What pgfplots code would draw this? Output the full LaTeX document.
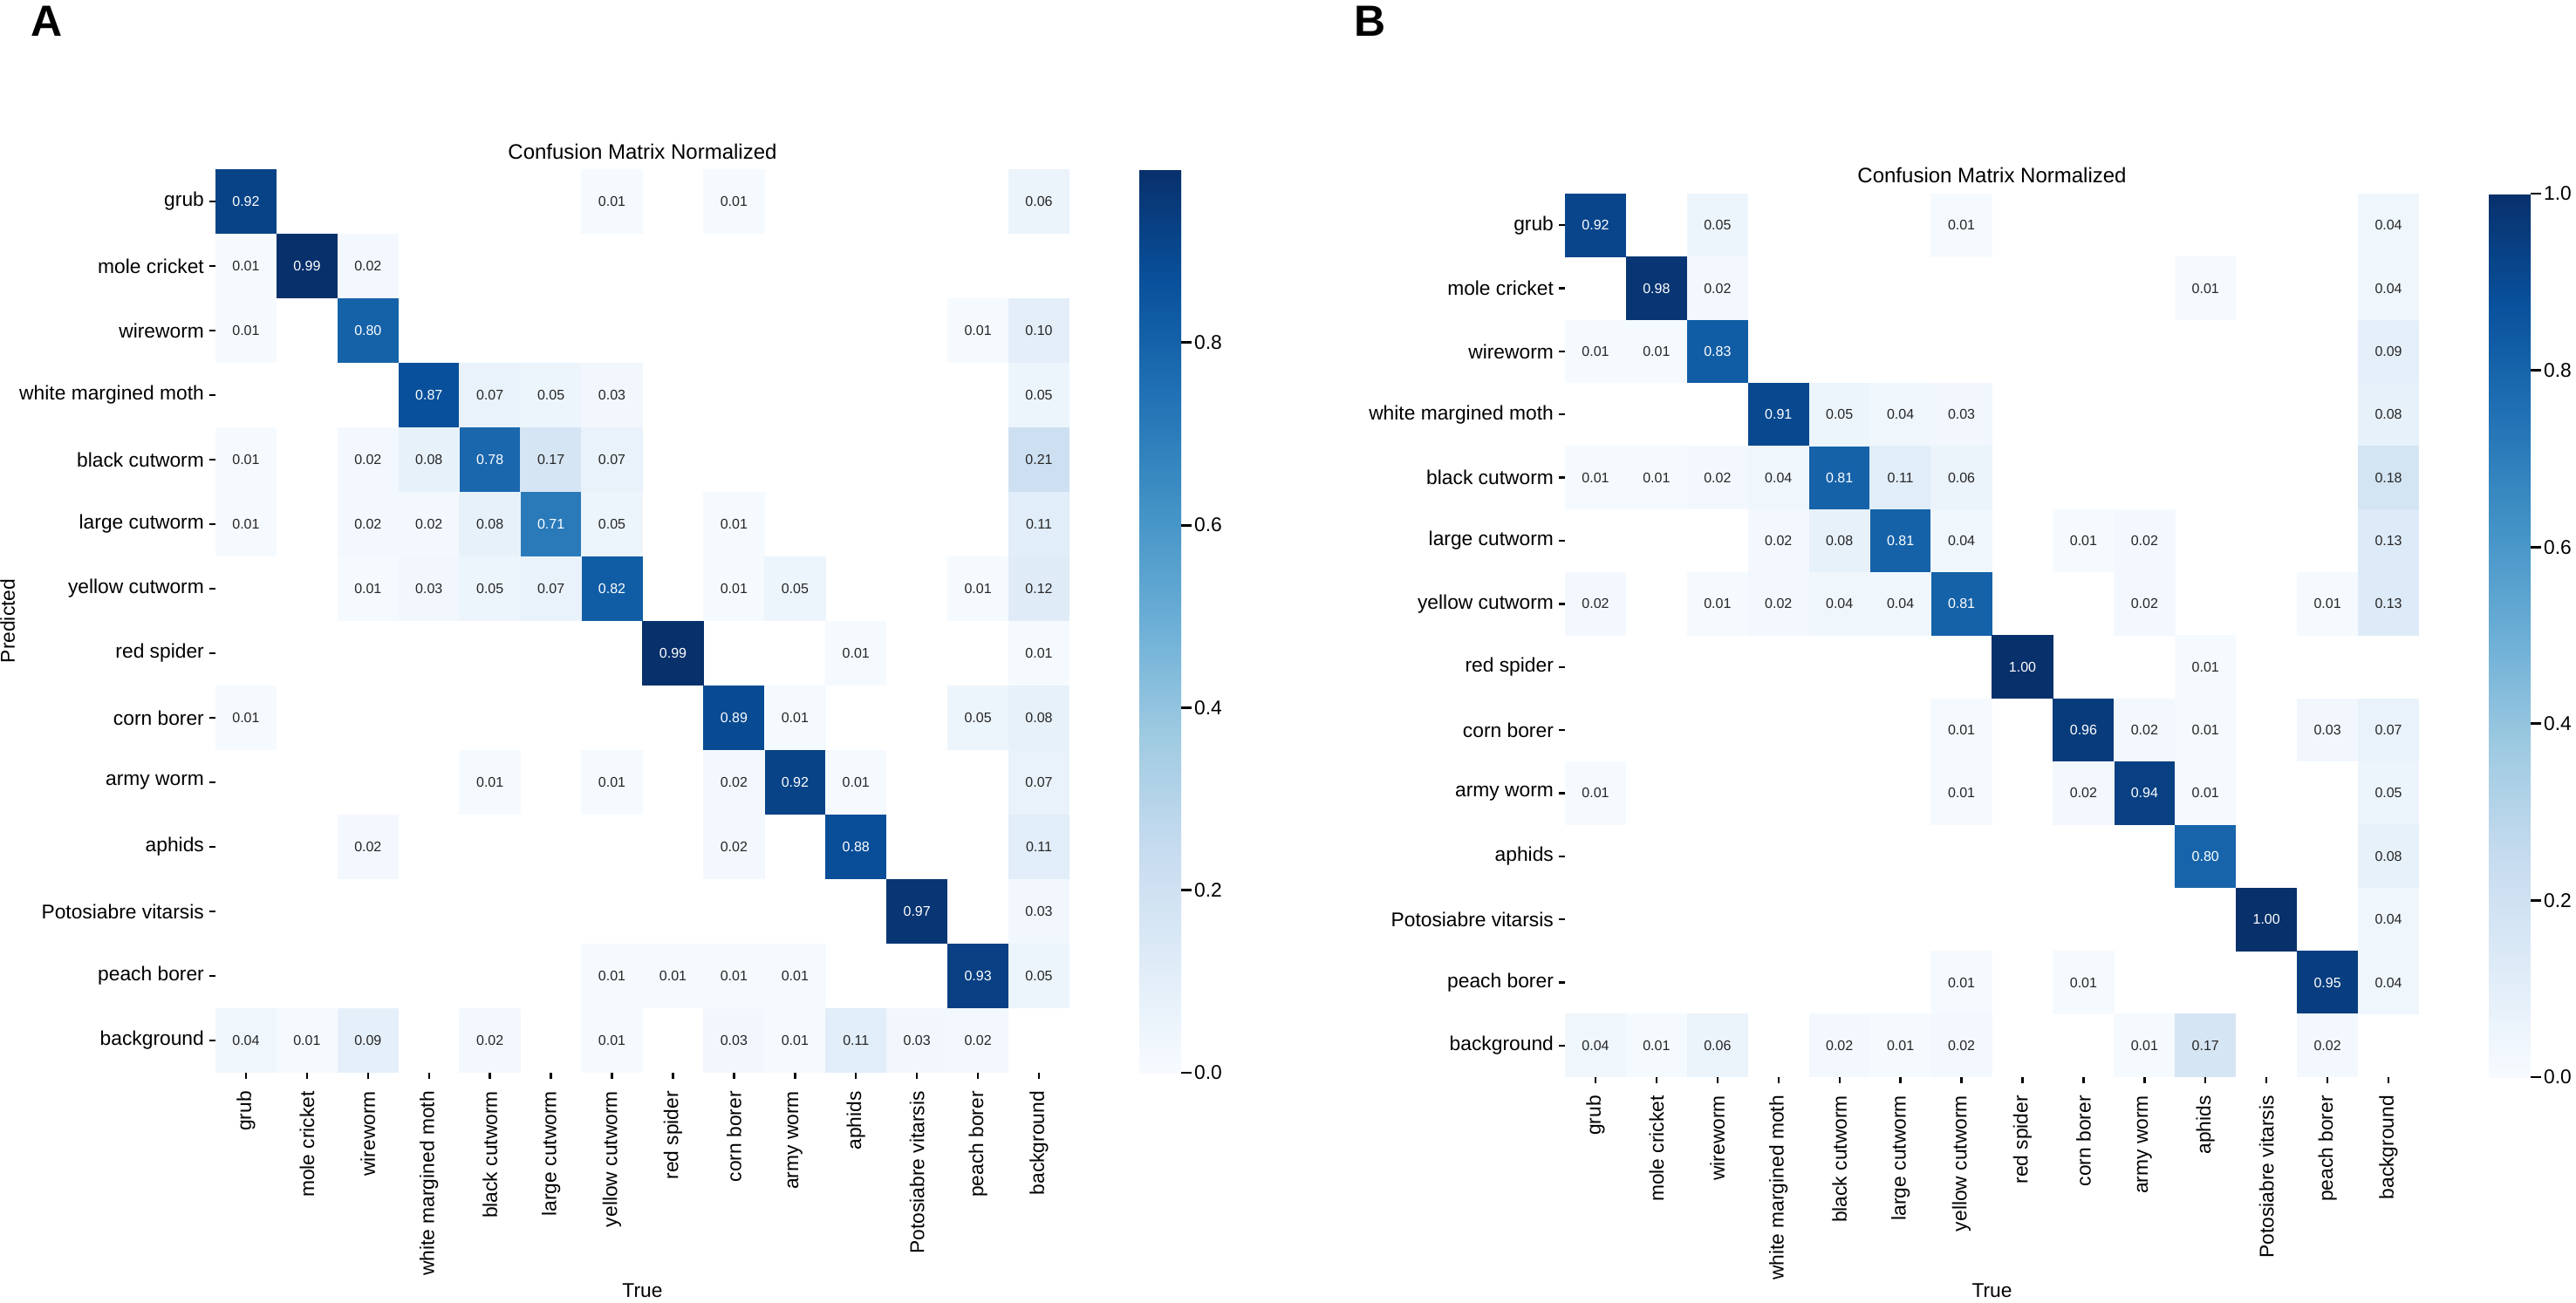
\documentclass[border=0pt]{standalone}
\usepackage{pgfplots}
\pgfplotsset{compat=1.18}
\usepackage{pgfplotstable}
\usepackage{fontspec}
\setmainfont{Liberation Sans}

\definecolor{annot}{RGB}{38,38,38}
\newcommand\tickfont{\fontsize{5.7}{6.8}\selectfont}
\newcommand\cellfont{\fontsize{4}{4.8}\selectfont}

% x = true class, y = predicted class (0 = grub ... 13 = background)
\pgfplotstableread{
x y v
0 0 0.92
1 1 0.99
2 2 0.80
3 3 0.87
4 4 0.78
5 5 0.71
6 6 0.82
7 7 0.99
8 8 0.89
9 9 0.92
10 10 0.88
11 11 0.97
12 12 0.93
}\diagA
\pgfplotstableread{
x y v
6 0 0.01
8 0 0.01
13 0 0.06
0 1 0.01
2 1 0.02
0 2 0.01
12 2 0.01
13 2 0.10
4 3 0.07
5 3 0.05
6 3 0.03
13 3 0.05
0 4 0.01
2 4 0.02
3 4 0.08
5 4 0.17
6 4 0.07
13 4 0.21
0 5 0.01
2 5 0.02
3 5 0.02
4 5 0.08
6 5 0.05
8 5 0.01
13 5 0.11
2 6 0.01
3 6 0.03
4 6 0.05
5 6 0.07
8 6 0.01
9 6 0.05
12 6 0.01
13 6 0.12
10 7 0.01
13 7 0.01
0 8 0.01
9 8 0.01
12 8 0.05
13 8 0.08
4 9 0.01
6 9 0.01
8 9 0.02
10 9 0.01
13 9 0.07
2 10 0.02
8 10 0.02
13 10 0.11
13 11 0.03
6 12 0.01
7 12 0.01
8 12 0.01
9 12 0.01
13 12 0.05
0 13 0.04
1 13 0.01
2 13 0.09
4 13 0.02
6 13 0.01
8 13 0.03
9 13 0.01
10 13 0.11
11 13 0.03
12 13 0.02
}\offA

\pgfplotstableread{
x y v
0 0 0.92
1 1 0.98
2 2 0.83
3 3 0.91
4 4 0.81
5 5 0.81
6 6 0.81
7 7 1.00
8 8 0.96
9 9 0.94
10 10 0.80
11 11 1.00
12 12 0.95
}\diagB
\pgfplotstableread{
x y v
2 0 0.05
6 0 0.01
13 0 0.04
2 1 0.02
10 1 0.01
13 1 0.04
0 2 0.01
1 2 0.01
13 2 0.09
4 3 0.05
5 3 0.04
6 3 0.03
13 3 0.08
0 4 0.01
1 4 0.01
2 4 0.02
3 4 0.04
5 4 0.11
6 4 0.06
13 4 0.18
3 5 0.02
4 5 0.08
6 5 0.04
8 5 0.01
9 5 0.02
13 5 0.13
0 6 0.02
2 6 0.01
3 6 0.02
4 6 0.04
5 6 0.04
9 6 0.02
12 6 0.01
13 6 0.13
10 7 0.01
6 8 0.01
9 8 0.02
10 8 0.01
12 8 0.03
13 8 0.07
0 9 0.01
6 9 0.01
8 9 0.02
10 9 0.01
13 9 0.05
13 10 0.08
13 11 0.04
6 12 0.01
8 12 0.01
13 12 0.04
0 13 0.04
1 13 0.01
2 13 0.06
4 13 0.02
5 13 0.01
6 13 0.02
9 13 0.01
10 13 0.17
12 13 0.02
}\offB

\pgfplotsset{
  colormap={blues}{rgb255=(247,251,255) rgb255=(222,235,247) rgb255=(198,219,239)
    rgb255=(158,202,225) rgb255=(107,174,214) rgb255=(66,146,198)
    rgb255=(33,113,181) rgb255=(8,81,156) rgb255=(8,48,107)},
  cm/.style={
    anchor=north west, scale only axis,
    colormap name=blues,
    xmin=-0.5, xmax=13.5, ymin=-0.5, ymax=13.5, y dir=reverse,
    axis line style={draw=none},
    xtick={0,...,13}, ytick={0,...,13},
    xticklabels={grub,mole cricket,wireworm,white margined moth,black cutworm,large cutworm,yellow cutworm,red spider,corn borer,army worm,aphids,Potosiabre vitarsis,peach borer,background},
    yticklabels={grub,mole cricket,wireworm,white margined moth,black cutworm,large cutworm,yellow cutworm,red spider,corn borer,army worm,aphids,Potosiabre vitarsis,peach borer,background},
    xtick pos=left, xticklabel pos=left, ytick pos=left, yticklabel pos=left,
    tick align=outside, major tick length=1.75pt,
    tick style={line width=0.6pt, black},
    xticklabel style={rotate=90, anchor=east, font=\tickfont},
    yticklabel style={font=\tickfont, xshift=2pt},
    title={Confusion Matrix Normalized},
    xlabel={True},
    label style={font=\tickfont},
    point meta min=0,
    colorbar,
    colorbar style={
      at={(parent axis.north east)}, anchor=north west, xshift=11.5pt,
      width=12pt,
      axis line style={draw=none},
      ytick={0,0.2,0.4,0.6,0.8,1.0},
      ytick pos=right, yticklabel pos=right,
      tick align=outside, major tick length=3pt,
      tick style={line width=0.7pt, black},
      yticklabel style={font=\tickfont, xshift=-2.8pt,
        /pgf/number format/fixed, /pgf/number format/fixed zerofill,
        /pgf/number format/precision=1, /pgf/number format/assume math mode=true},
    },
  },
  % coloured cells (no labels)
  heatcells/.style={scatter, only marks, mark=square*, mark size=8.6pt,
    mark options={yscale=#1},
    point meta=\thisrow{v},
    scatter/use mapped color={draw=mapped color, fill=mapped color}},
  % the numbers written in the cells
  lbl/.style={only marks, mark=none, point meta=\thisrow{v},
    nodes near coords, nodes near coords align={center},
    nodes near coords style={font=\cellfont, text=#1,
    /pgf/number format/fixed, /pgf/number format/fixed zerofill,
    /pgf/number format/precision=2, /pgf/number format/assume math mode=true}},
}

\begin{document}
\begin{tikzpicture}
\path[use as bounding box] (0,0) rectangle (738.25pt,-373.25pt);

\node[anchor=base, font=\fontsize{12.5}{15}\selectfont\bfseries] at (13.5pt,-10.25pt) {A};
\node[anchor=base, font=\fontsize{12.5}{15}\selectfont\bfseries] at (392.75pt,-10.25pt) {B};

\begin{axis}[cm, at={(61.75pt,-48.5pt)},
  width=244.75pt, height=259pt,
  point meta max=0.99,
  title style={at={(0.5,1)}, anchor=base, yshift=-3.15pt, font=\fontsize{6}{7}\selectfont},
  xlabel style={at={(0.5,0)}, anchor=center, yshift=-62.5pt},
  ylabel={Predicted},
  ylabel style={at={(-0.2435,0.5)}, anchor=center},
  colorbar style={height=259pt},
]
\addplot[heatcells=1.057] table[x=x, y=y] {\diagA};
\addplot[heatcells=1.057] table[x=x, y=y] {\offA};
\addplot[lbl=white] table[x=x, y=y] {\diagA};
\addplot[lbl=annot] table[x=x, y=y] {\offA};
\end{axis}

\begin{axis}[cm, at={(448.5pt,-55.5pt)},
  width=244.75pt, height=253.25pt,
  point meta max=1.0,
  title style={at={(0.5,1)}, anchor=base, yshift=-2.85pt, font=\fontsize{6}{7}\selectfont},
  xlabel style={at={(0.5,0)}, anchor=center, yshift=-61.25pt},
  colorbar style={height=253.25pt},
]
\addplot[heatcells=1.034] table[x=x, y=y] {\diagB};
\addplot[heatcells=1.034] table[x=x, y=y] {\offB};
\addplot[lbl=white] table[x=x, y=y] {\diagB};
\addplot[lbl=annot] table[x=x, y=y] {\offB};
\end{axis}
\end{tikzpicture}
\end{document}
